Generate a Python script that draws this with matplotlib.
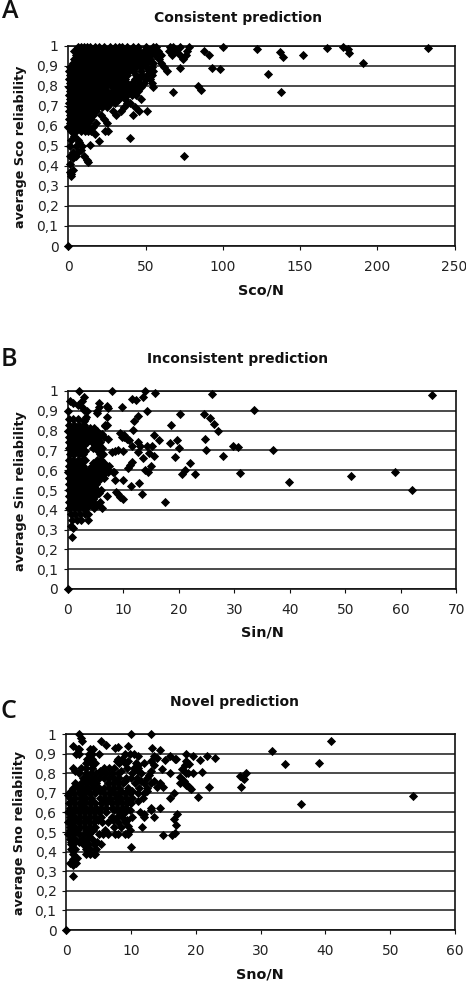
import matplotlib
matplotlib.use("Agg")
import matplotlib.pyplot as plt

W, H = 466, 981

# ---------- Panel A: Sco/N ----------
sco_levels = [0.995, 0.975, 0.955, 0.935, 0.915, 0.895, 0.875, 0.855, 0.835, 0.815, 0.795, 0.775, 0.755, 0.735, 0.715, 0.695, 0.675, 0.655, 0.635, 0.615, 0.595, 0.575]
sco_rows = [
    [6, 8, 10, 12, 14, 17, 20, 23, 27, 30, 33, 35, 38, 42, 45, 50, 55, 57, 66, 68, 72, 78],
    [4, 7, 10, 13, 16, 19, 22, 25, 28, 31, 34, 37, 40, 43, 46, 49, 52, 55, 58, 65, 70, 77, 88],
    [5, 8, 11, 14, 17, 20, 23, 26, 29, 32, 35, 38, 41, 44, 47, 50, 53, 56, 60, 67, 72, 76, 91],
    [4, 7, 10, 13, 16, 19, 22, 25, 28, 31, 34, 37, 40, 43, 46, 49, 53, 59, 74],
    [3, 6, 9, 12, 15, 18, 21, 24, 27, 30, 33, 36, 39, 42, 45, 48, 51, 55, 60],
    [1, 4, 7, 10, 13, 16, 19, 22, 25, 28, 31, 34, 37, 40, 44, 47, 50, 54, 62],
    [0.5, 3, 6, 9, 12, 15, 18, 21, 24, 27, 30, 33, 36, 39, 42, 47, 52, 55, 64],
    [1, 4, 7, 10, 13, 16, 19, 22, 25, 28, 32, 35, 38, 44, 48, 51, 54],
    [0.5, 3, 6, 9, 12, 15, 18, 21, 24, 27, 30, 33, 37, 43, 46, 50, 53],
    [1, 4, 7, 10, 13, 16, 20, 23, 26, 29, 32, 35, 38, 41, 46, 49, 54],
    [0.5, 3, 6, 9, 12, 15, 18, 21, 24, 28, 31, 34, 37, 40, 43, 47, 55],
    [1, 4, 7, 10, 13, 16, 19, 22, 25, 29, 33, 36, 39, 42, 45],
    [0.5, 3, 6, 9, 12, 15, 18, 21, 24, 27, 31, 35, 38, 41, 44],
    [1, 4, 7, 10, 13, 16, 20, 23, 26, 29, 33, 37, 47],
    [0.5, 3, 6, 9, 12, 15, 18, 21, 24, 27, 30, 38, 40],
    [1, 4, 7, 10, 13, 16, 19, 22, 25, 36, 43],
    [0.5, 3, 6, 9, 12, 15, 18, 29, 34, 46, 51],
    [1, 4, 7, 10, 13, 16, 21, 31, 42],
    [0.5, 3, 6, 9, 12, 15, 23],
    [1, 4, 7, 10, 13, 18, 25],
    [0, 3, 6, 9, 12, 16],
    [2, 5, 8, 11, 13, 15, 24, 26],
]
sco_extra_x = [93, 98, 72, 67.5, 84, 86, 40, 75, 122, 129, 137, 139, 137.5, 152, 167.5, 178, 182, 181, 191, 233, 100,
               14, 20, 10, 12, 12.5, 2, 1.5, 3, 1, 1, 1, 3, 5, 6, 8, 5, 7, 9, 1, 2, 3, 17, 4, 6, 0]
sco_extra_y = [0.89, 0.885, 0.89, 0.77, 0.80, 0.78, 0.54, 0.45, 0.985, 0.86, 0.97, 0.945, 0.77, 0.955, 0.99, 0.995, 0.965, 0.985, 0.915, 0.99, 0.995,
               0.505, 0.525, 0.45, 0.43, 0.42, 0.36, 0.35, 0.38, 0.37, 0.41, 0.45, 0.44, 0.45, 0.47, 0.48, 0.50, 0.52, 0.50, 0.50, 0.53, 0.47, 0.56, 0.55, 0.53, 0.0]

# ---------- Panel B: Sin/N ----------
sin_levels = [0.86, 0.83, 0.80, 0.77, 0.74, 0.71, 0.68, 0.65, 0.62, 0.59, 0.56, 0.53, 0.50, 0.47, 0.44, 0.41, 0.38, 0.35]
sin_rows = [
    [0.2, 1, 1.8, 3.2],
    [0.3, 1.2, 2, 3, 6.8],
    [0.1, 1, 1.9, 2.8, 3.6, 4.4, 5.2],
    [0.2, 0.9, 1.7, 2.5, 3.3, 4.1, 4.9, 5.7, 6.5],
    [0.3, 1.1, 1.9, 2.7, 3.5, 4.3, 5.1, 5.9],
    [0.2, 1, 1.8, 2.6, 4.5, 5.3, 6.1],
    [0.4, 1.2, 2, 2.8, 5.8, 6.4],
    [0.2, 1, 1.8, 2.6, 3.2, 5.2, 6],
    [0.3, 1.1, 1.9, 2.7, 4.3, 5.1, 5.9, 6.8, 7.4],
    [0.1, 0.9, 1.7, 2.5, 3.3, 4.1, 4.9, 5.7, 6.5, 7.3, 8.1],
    [0.2, 1, 1.8, 2.6, 3.4, 4.2, 5, 5.8, 6.6],
    [0.3, 1.1, 1.9, 2.7, 3.5, 4.3, 5.1],
    [0.2, 0.9, 1.7, 2.5, 3.3, 4.1, 5.2, 6],
    [0.3, 1.1, 1.9, 2.7, 3.5, 4.3, 5, 7],
    [0.2, 1, 1.8, 2.6, 3.4, 4.6, 5.8],
    [0.3, 1.1, 1.9, 2.7, 3.3, 4.7, 6.2],
    [0.6, 1.4, 2.2, 3.1, 3.7],
    [0.8, 1.6, 2.4, 3.6],
]
sin_levels_b = [0.815, 0.785, 0.755, 0.725, 0.695, 0.635, 0.605, 0.575, 0.545, 0.515, 0.485, 0.455, 0.425]
sin_rows_b = [
    [0.6, 1.4, 2.3, 3.1, 4, 4.8],
    [0.6, 1.3, 2.1, 2.9, 3.7, 4.5, 5.3, 6.1],
    [0.7, 1.5, 2.3, 3.1, 3.9, 4.7, 5.5],
    [0.6, 1.4, 2.2, 3, 4.9, 5.7],
    [0.8, 1.6, 2.4, 3.1, 5.5],
    [0.7, 1.5, 2.3, 4.6, 5.5, 6.5],
    [0.6, 1.4, 2.2, 3, 3.8, 4.6, 5.4, 6.2, 7],
    [0.7, 1.5, 2.3, 3.1, 3.9, 4.7, 5.5, 6.3],
    [0.6, 1.4, 2.2, 3, 3.8, 4.6, 5.4],
    [0.7, 1.5, 2.3, 3.1, 3.9, 4.7],
    [0.6, 1.3, 2.1, 2.9, 3.7, 4.5, 5.6],
    [0.7, 1.5, 2.3, 3.1, 3.9, 4.6],
    [0.6, 1.4, 2.2, 3, 3.8, 5.2],
]
sin_extra_x = [2, 8, 14, 15.8, 26, 11.5, 12.3, 13.6, 3, 2.5, 0.5, 1, 1.8, 2.5, 3, 3.5, 0.1, 5.7, 5.6, 5.2, 5.2, 7, 7.3, 9.7, 14.3, 20.2, 24.5, 25.6, 26.4, 27,
               18.6, 12.6, 12, 7, 7, 6.7, 3.3, 3, 11.8, 9.5, 10.2, 10.6, 7.3, 15.6, 16.5, 18.4, 19.6, 20, 19.4, 24.8, 25, 27.9, 29.7,
               65.6, 33.5, 30.6, 36.9, 31, 39.9, 51, 59, 62, 17.6, 22, 21.2, 20.5, 22.9, 13.3, 12.8, 11.4, 10, 9.5, 9, 8.7, 9.9, 8.5, 8.4,
               13.9, 14.4, 15, 13.6, 15.6, 14.6, 15.1, 14.2, 12.7, 13, 11.5, 12.6, 10, 9, 8.5, 8, 11.6, 11.2, 10.8, 10.2, 11, 9.8,
               0.7, 0.9, 0.6, 0]
sin_extra_y = [1.0, 1.0, 1.0, 0.99, 0.985, 0.96, 0.955, 0.97, 0.97, 0.95, 0.95, 0.94, 0.93, 0.92, 0.905, 0.90, 0.90, 0.94, 0.92, 0.90, 0.89, 0.925, 0.915, 0.92, 0.90, 0.885, 0.885, 0.865, 0.835, 0.80,
               0.83, 0.875, 0.85, 0.87, 0.83, 0.825, 0.87, 0.85, 0.805, 0.79, 0.78, 0.76, 0.76, 0.78, 0.75, 0.735, 0.755, 0.71, 0.665, 0.76, 0.70, 0.67, 0.72,
               0.98, 0.905, 0.715, 0.70, 0.585, 0.54, 0.57, 0.59, 0.50, 0.44, 0.635, 0.60, 0.58, 0.58, 0.48, 0.535, 0.52, 0.455, 0.465, 0.48, 0.49, 0.55, 0.55, 0.59,
               0.60, 0.59, 0.62, 0.66, 0.67, 0.685, 0.72, 0.72, 0.74, 0.72, 0.72, 0.69, 0.695, 0.70, 0.695, 0.69, 0.64, 0.625, 0.61, 0.77, 0.75, 0.77,
               0.265, 0.31, 0.32, 0.0]

# ---------- Panel C: Sno/N ----------
sno_levels = [0.90, 0.875, 0.85, 0.825, 0.80, 0.775, 0.75, 0.725, 0.70, 0.675, 0.65, 0.625, 0.60, 0.575, 0.55, 0.525, 0.49, 0.465, 0.44, 0.415, 0.39]
sno_rows = [
    [1.5, 2, 3.5, 4, 5, 9, 9.8],
    [3.2, 4, 8, 8.6],
    [3, 3.8, 4.5, 8.2, 9, 10.7],
    [1.1, 2.2, 3.1, 4, 5.8, 6.6, 7.4, 9.4, 10.4, 11],
    [2, 3, 3.8, 4.6, 5.4, 6.2, 7, 8, 10.2, 11.5],
    [2.6, 3.4, 4.2, 5, 5.8, 6.6, 7.4, 8.2, 9.2, 10, 10.9, 12.5],
    [1.4, 2.2, 3, 3.8, 4.6, 6.4, 7.2, 8, 8.8, 10.6, 12, 13],
    [1, 1.8, 2.6, 3.4, 4.2, 5, 5.8, 6.6, 7.4, 8.2, 9.6, 11.2, 12.4],
    [0.4, 1.2, 2, 2.8, 3.6, 4.4, 5.8, 6.6, 7.4, 8.2, 9, 9.8, 11, 12],
    [0.6, 1.4, 2.2, 3, 3.8, 5.2, 6, 6.8, 7.6, 8.4, 9.2, 10.2, 11.8],
    [0.4, 1.2, 2, 2.8, 3.6, 4.4, 5.4, 6.2, 7, 7.8, 8.6, 9.4, 10],
    [0.6, 1.4, 2.2, 3, 3.8, 4.6, 5.4, 6.2, 7, 7.8, 8.6, 9.2],
    [0.3, 1.1, 1.9, 2.7, 3.5, 4.3, 5.1, 6.2, 8.2, 9, 11.3],
    [0.5, 1.3, 2.1, 2.9, 3.7, 4.5, 5.3, 7, 7.8, 8.6, 10.2, 12],
    [0.3, 1.1, 1.9, 2.7, 3.5, 4.3, 5.5, 6.4, 8, 9],
    [0.5, 1.3, 2.1, 2.9, 3.7, 4.5, 7.4, 8.4],
    [0.3, 1.1, 1.9, 2.7, 3.5, 5, 5.7, 6.5, 7.5, 8, 9, 9.6],
    [0.5, 1.3, 2.4, 3.2, 4],
    [0.7, 1.1, 2.6, 3.4, 4.2, 5.3],
    [0.8, 1.3, 3, 3.6, 4.6],
    [1, 3.1, 3.7, 4.3, 4.5],
]
sno_levels_b = [0.925, 0.86, 0.81, 0.76, 0.71, 0.66, 0.61, 0.56, 0.51, 0.45]
sno_rows_b = [
    [3.6, 4.1, 1.8, 2],
    [3.4, 7.8, 9.6, 13],
    [1.4, 5.2, 8.4, 11, 13],
    [3, 4, 7.8, 9, 11.5, 13.6],
    [0.7, 2.4, 3.4, 5.2, 7, 8.4, 10.2, 12.4],
    [0.8, 2.6, 4, 5.6, 6.8, 8, 9.6, 11],
    [0.5, 1.8, 3, 4.4, 7.4, 8.6, 9.8, 13],
    [0.5, 1.7, 3.1, 4.9, 7.2, 9.4],
    [0.5, 1.7, 3.1, 4.1, 6, 9.8],
    [0.8, 2, 3, 4.8],
]
sno_extra_x = [40.9, 31.8, 33.7, 39, 36.2, 53.5, 27, 27.5, 27.7, 26.8, 27.2, 2, 10, 13, 2.2, 2.5, 1, 5.3, 6.2, 7.5, 8, 9.5, 10.5, 11, 13.2, 14.5, 13.5, 14,
               16, 16.8, 17, 15.3, 18.4, 19.5, 21.7, 23, 20.6, 19, 18.5, 21, 19.5, 18.5, 16, 14.7, 13.5, 12, 11, 22, 20.3, 19, 18.5, 17.5, 16.7, 16, 15, 14.5, 14,
               16.7, 17, 17.1, 16.3, 16.8, 15, 13.5, 14.5, 13, 12, 11.7, 10, 9.5, 1.1, 0.5, 1, 1.5, 1.7, 1, 0.3, 0, 12.8, 17.8, 18.3, 18.8, 17.6, 18.1, 18.6, 19.2]
sno_extra_y = [0.965, 0.915, 0.845, 0.85, 0.645, 0.685, 0.73, 0.77, 0.80, 0.785, 0.775, 1.0, 1.0, 1.0, 0.98, 0.965, 0.94, 0.965, 0.945, 0.93, 0.935, 0.94, 0.90, 0.89, 0.93, 0.92, 0.89, 0.88,
               0.89, 0.875, 0.87, 0.865, 0.90, 0.89, 0.89, 0.88, 0.865, 0.845, 0.86, 0.805, 0.80, 0.80, 0.80, 0.82, 0.84, 0.85, 0.84, 0.73, 0.68, 0.73, 0.74, 0.75, 0.70, 0.675, 0.73, 0.75, 0.73,
               0.565, 0.535, 0.59, 0.485, 0.495, 0.485, 0.575, 0.625, 0.62, 0.59, 0.525, 0.425, 0.53, 0.275, 0.34, 0.33, 0.34, 0.365, 0.36, 0.69, 0.0, 0.79, 0.82, 0.84, 0.80, 0.78, 0.76, 0.74, 0.72]

y_ticks = [0, 0.1, 0.2, 0.3, 0.4, 0.5, 0.6, 0.7, 0.8, 0.9, 1]
y_tick_labels = ["0", "0,1", "0,2", "0,3", "0,4", "0,5", "0,6", "0,7", "0,8", "0,9", "1"]


def expand(levels, rows, extra_x, extra_y):
    xs, ys = list(extra_x), list(extra_y)
    for level, row in zip(levels, rows):
        xs += row
        ys += [level] * len(row)
    return xs, ys


fig = plt.figure(figsize=(W / 100, H / 100), dpi=100, facecolor="white")
INK = "#111111"


def panel(box, data, xmax, xstep, title, title_xy, xlabel, xlabel_xy, ylabel, ylabel_xy, letter, letter_xy):
    l, t, r, b = box
    ax = fig.add_axes([l / W, 1 - b / H, (r - l) / W, (b - t) / H])
    ax.set_xlim(0, xmax)
    ax.set_ylim(0, 1)
    ax.set_xticks(list(range(0, xmax + 1, xstep)))
    ax.set_yticks(y_ticks)
    ax.set_yticklabels(y_tick_labels)
    ax.grid(axis="y", color="#1a1a1a", linewidth=1.1, zorder=1)
    ax.set_axisbelow(True)
    for s in ax.spines.values():
        s.set_linewidth(1.2)
        s.set_color(INK)
    ax.tick_params(axis="both", length=3, width=0.8, color=INK, labelsize=10, labelcolor="#222222", pad=4)
    ax.tick_params(axis="x", pad=7)
    ax.scatter(data[0], data[1], marker="D", s=22, color="black", linewidths=0, zorder=3, clip_on=False)
    fig.text(title_xy[0] / W, 1 - title_xy[1] / H, title, ha="center", va="center", fontsize=10, fontweight="bold", color="#111111")
    fig.text(xlabel_xy[0] / W, 1 - xlabel_xy[1] / H, xlabel, ha="center", va="center", fontsize=10.4, fontweight="bold", color="#111111")
    fig.text(ylabel_xy[0] / W, 1 - ylabel_xy[1] / H, ylabel, ha="center", va="center", rotation=90, fontsize=9.2, fontweight="bold", color="#111111")
    fig.text(letter_xy[0] / W, 1 - letter_xy[1] / H, letter, ha="left", va="center", fontsize=18, family="Open Sans", fontweight="semibold", color="#111111")


sin_data = expand(sin_levels, sin_rows, sin_extra_x, sin_extra_y)
sin_data = expand(sin_levels_b, sin_rows_b, sin_data[0], sin_data[1])
sno_data = expand(sno_levels, sno_rows, sno_extra_x, sno_extra_y)
sno_data = expand(sno_levels_b, sno_rows_b, sno_data[0], sno_data[1])

panel((68.3, 45.7, 454.5, 246), expand(sco_levels, sco_rows, sco_extra_x, sco_extra_y), 250, 50,
      "Consistent prediction", (238, 18), "Sco/N", (261, 290), "average Sco reliability", (21, 147), "A", (2, 12))
panel((67.7, 391, 456.3, 589), sin_data, 70, 10,
      "Inconsistent prediction", (238, 359), "Sin/N", (262, 633), "average Sin reliability", (21, 491), "B", (1, 359))
panel((66.3, 734, 455, 930), sno_data, 60, 10,
      "Novel prediction", (235, 702), "Sno/N", (260, 974), "average Sno reliability", (20, 833), "C", (0, 712))

fig.savefig("out.png", dpi=100)
